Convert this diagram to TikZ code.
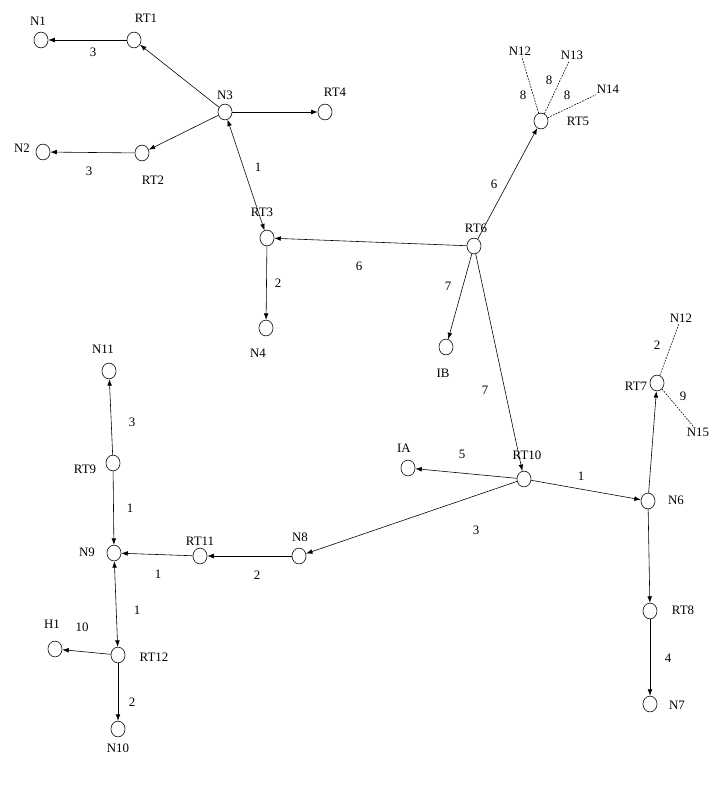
\documentclass[tikz,border=0pt]{standalone}
\usepackage{fontspec}
\setmainfont{Liberation Serif}
\usetikzlibrary{shapes.geometric,arrows.meta}
\tikzset{
    rtr/.style={draw, ellipse, minimum width=12pt, minimum height=13.5pt, inner sep=0pt},
    txt/.style={font=\fontsize{11}{13}\selectfont, inner sep=1pt},
    link/.style={-{Latex[length=5.5pt,width=4pt]}},
    twoway/.style={{Latex[length=5.5pt,width=4pt]}-{Latex[length=5.5pt,width=4pt]}},
    stub/.style={dash pattern=on 1.5pt off 1pt}
}
\begin{document}
\begin{tikzpicture}[x=0.03cm, y=-0.03cm, line width=0.5pt]
    \useasboundingbox (0,0) rectangle (713,787);

        \node[rtr] at (41, 40)(n1){};
        \node[rtr] at (134, 40)(rt1){};
        \node[rtr] at (225, 112)(n3){};
        \node[rtr] at (325, 112)(rt4){};
        \node[rtr] at (43, 152)(n2){};
        \node[rtr] at (142, 153)(rt2){};
        \node[rtr] at (267, 238)(rt3){};
        \node[rtr] at (266, 328)(n4){};
        \node[rtr] at (474, 246)(rt6){};
        \node[rtr] at (541, 121)(rt5){};
        \node[rtr] at (446, 347)(ib){};
        \node[rtr] at (524, 479)(rt10){};
        \node[rtr] at (408, 468)(ia){};
        \node[rtr] at (648, 501)(n6){};
        \node[rtr] at (657, 383)(rt7){};
        \node[rtr] at (650, 611)(rt8){};
        \node[rtr] at (650, 704)(n7){};
        \node[rtr] at (109, 371)(n11){};
        \node[rtr] at (113, 463)(rt9){};
        \node[rtr] at (114, 553)(n9){};
        \node[rtr] at (200, 556)(rt11){};
        \node[rtr] at (299, 556)(n8){};
        \node[rtr] at (55, 649)(h1){};
        \node[rtr] at (118, 655)(rt12){};
        \node[rtr] at (118, 729)(n10){};

        % names
        \node[txt] at (38, 21)(tn1){N1};
        \node[txt] at (146, 18)(trt1){RT1};
        \node[txt] at (225, 95)(tn3){N3};
        \node[txt] at (335, 92)(trt4){RT4};
        \node[txt] at (22, 148)(tn2){N2};
        \node[txt] at (153, 180)(trt2){RT2};
        \node[txt] at (262, 212)(trt3){RT3};
        \node[txt] at (258, 353)(tn4){N4};
        \node[txt] at (476, 228)(trt6){RT6};
        \node[txt] at (578, 121)(trt5){RT5};
        \node[txt] at (443, 373)(tib){IB};
        \node[txt] at (520, 51)(ta12){N12};
        \node[txt] at (572, 55)(ta13){N13};
        \node[txt] at (608, 89)(ta14){N14};
        \node[txt] at (527, 455)(trt10){RT10};
        \node[txt] at (404, 448)(tia){IA};
        \node[txt] at (676, 500)(tn6){N6};
        \node[txt] at (636, 386)(trt7){RT7};
        \node[txt] at (681, 318)(tb12){N12};
        \node[txt] at (698, 432)(tb15){N15};
        \node[txt] at (683, 610)(trt8){RT8};
        \node[txt] at (677, 705)(tn7){N7};
        \node[txt] at (103, 349)(tn11){N11};
        \node[txt] at (85, 469)(trt9){RT9};
        \node[txt] at (87, 552)(tn9){N9};
        \node[txt] at (200, 541)(trt11){RT11};
        \node[txt] at (300, 537)(tn8){N8};
        \node[txt] at (52, 624)(th1){H1};
        \node[txt] at (154, 657)(trt12){RT12};
        \node[txt] at (118, 748)(tn10){N10};

        \draw[link](rt1) to (n1);
        \draw[link](n3) to (rt1);
        \draw[link](n3) to (rt4);
        \draw[link](n3) to (rt2);
        \draw[link](rt2) to (n2);
        \draw[twoway](n3) to (rt3);
            \draw[link](rt6) to (rt3);
            \draw[link](rt3) to (n4);
        \draw[link](rt6) to (rt5);
            \draw[stub](rt5) to (ta12);
            \draw[stub](rt5) to (ta13);
            \draw[stub](rt5) to (ta14);
        \draw[link](rt6) to (ib);
        \draw[link](rt6) to (rt10);
            \draw[link](rt10) to (ia);
            \draw[link](rt10) to (n6);
            \draw[link](rt10) to (n8);
        \draw[link](n6) to (rt7);
            \draw[stub](rt7) to (tb12);
            \draw[stub](rt7) to (tb15);
        \draw[link](n6) to (rt8);
        \draw[link](rt8) to (n7);
        \draw[link](rt9) to (n11);
        \draw[link](rt9) to (n9);
        \draw[link](rt11) to (n9);
        \draw[link](n8) to (rt11);
        \draw[twoway](n9) to (rt12);
            \draw[link](rt12) to (h1);
            \draw[link](rt12) to (n10);

        % costs
        \node[txt] at (93, 52)(c1){3};
        \node[txt] at (89, 171)(c2){3};
        \node[txt] at (258, 167)(c3){1};
        \node[txt] at (359, 266)(c4){6};
        \node[txt] at (278, 283)(c5){2};
        \node[txt] at (494, 184)(c6){6};
        \node[txt] at (523, 95)(c7){8};
        \node[txt] at (549, 80)(c8){8};
        \node[txt] at (567, 95)(c9){8};
        \node[txt] at (448, 286)(c10){7};
        \node[txt] at (485, 390)(c11){7};
        \node[txt] at (462, 454)(c12){5};
        \node[txt] at (581, 476)(c13){1};
        \node[txt] at (476, 530)(c14){3};
        \node[txt] at (657, 345)(c15){2};
        \node[txt] at (683, 396)(c16){9};
        \node[txt] at (668, 658)(c17){4};
        \node[txt] at (132, 422)(c18){3};
        \node[txt] at (130, 508)(c19){1};
        \node[txt] at (158, 574)(c20){1};
        \node[txt] at (257, 575)(c21){2};
        \node[txt] at (137, 610)(c22){1};
        \node[txt] at (82, 627)(c23){10};
        \node[txt] at (132, 702)(c24){2};
    \end{tikzpicture}
\end{document}
